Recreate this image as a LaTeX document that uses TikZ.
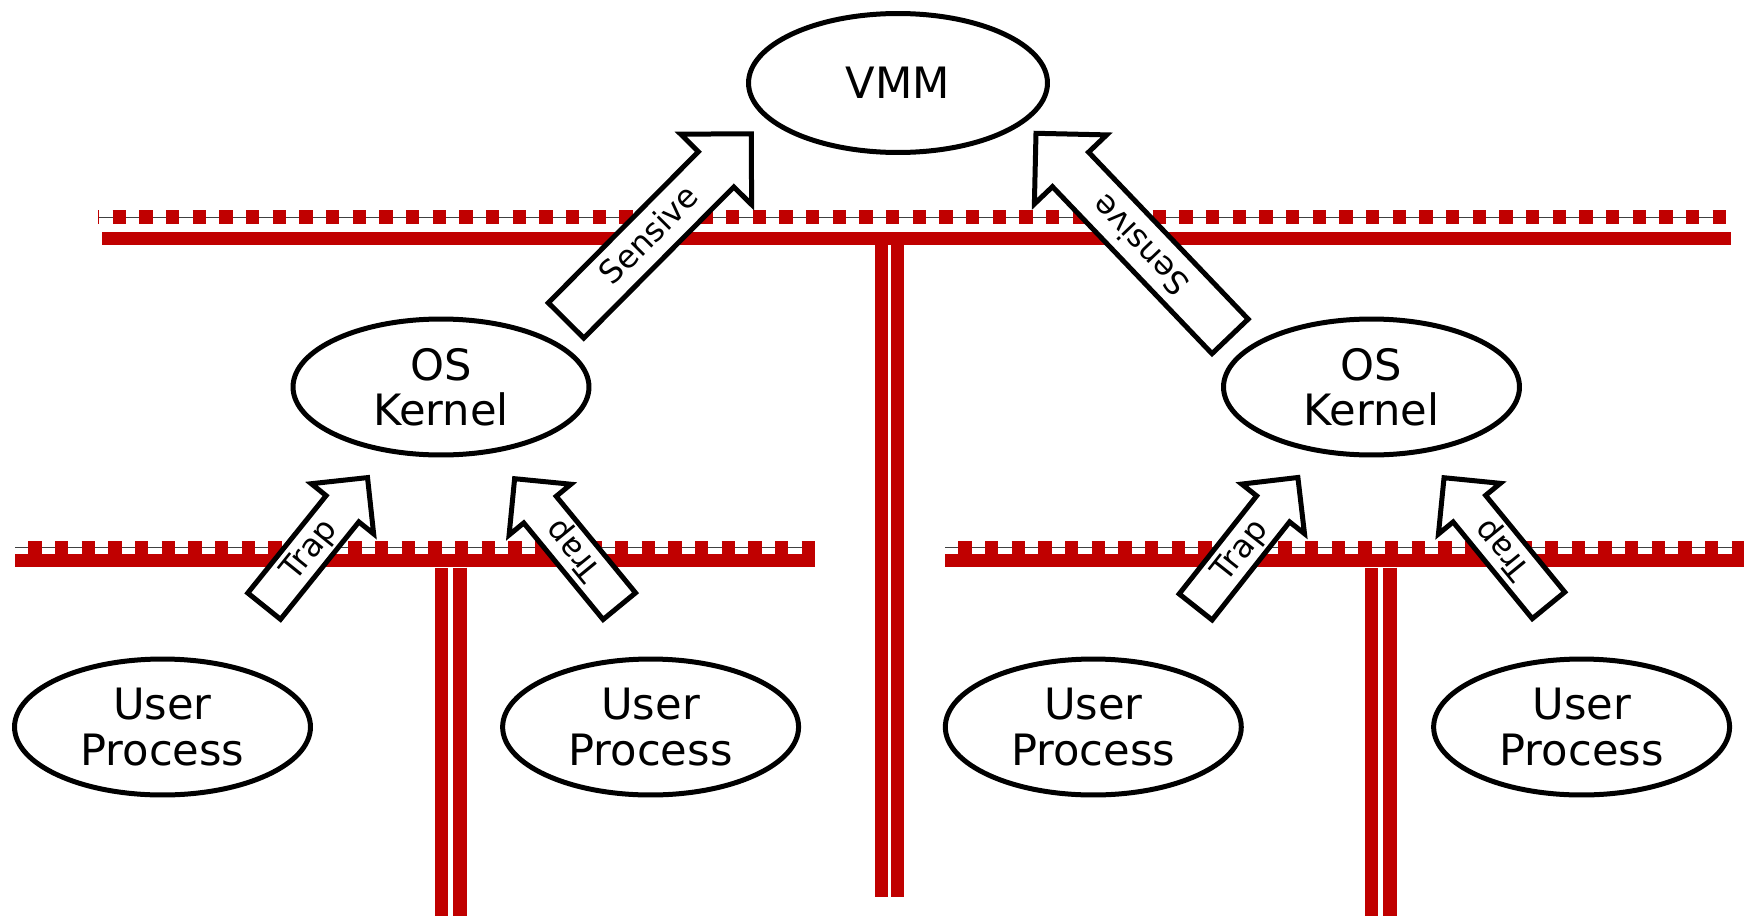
\documentclass[tikz,border=0pt]{standalone}
\usepackage{fontspec}
\setmainfont{DejaVu Sans}
\usetikzlibrary{shapes.geometric,shapes.arrows}
\definecolor{railRed}{RGB}{192,0,0}
\begin{document}
\begin{tikzpicture}[
    x=0.02cm, y=-0.02cm,
    vtRing/.style={ellipse,draw=black,line width=0.1cm,inner sep=0pt,
                   minimum width=5.92cm,minimum height=2.72cm,align=center,
                   font=\fontsize{24.6}{25.8}\selectfont},
    vtArrow/.style={single arrow,draw=black,fill=white,line width=0.1cm,
                    inner sep=0pt,anchor=tail,
                    font=\fontsize{18.2}{20}\selectfont},
    vtTrap/.style={vtArrow,text height=0.562cm,text depth=0.178cm,
                   single arrow head extend=0.38cm,minimum height=3.3cm},
    vtSens/.style={vtArrow,text height=0.642cm,text depth=0.258cm,
                   single arrow head extend=0.5cm},
    vtDots/.style={draw=railRed,line width=0.2667cm,
                   dash pattern=on 0.2667cm off 0.2667cm,dash phase=0.2667cm},
    vtWire/.style={draw=black!75,line width=0.02cm},
    vtRail/.style={draw=railRed,line width=0.2667cm},
    vtPost/.style={draw=railRed,double=white,line width=0.2667cm}]
    \useasboundingbox (0,0) rectangle (1744,916);
    % upper rail
    \coordinate (topA) at (98,217);
    \coordinate (topB) at (1726,217);
    \draw[vtWire] (topA) -- (topB);
    \draw[vtDots,dash phase=0.24cm] (topA) -- (topB);
    \draw[vtRail] (102,238.3) -- (1731,238.3);
    \draw[vtPost,double distance=0.054cm] (889.7,245) -- (889.7,897);
    % lower rails
    \foreach \x in {15,945}{
        \draw[vtWire] (\x,547.3) -- ++(800,0);
        \draw[vtDots] (\x,547.5) -- ++(800,0);
        \draw[vtRail] (\x,560.8) -- ++(800,0);
        \draw[vtPost,double distance=0.1cm] (\x+435.8,567.5) -- (\x+435.8,916);
    }
    % rings
    \node[vtRing,minimum width=5.98cm,minimum height=2.78cm] (vmm) at (898,83) {VMM};
    \node[vtRing] (kernL) at (441,387) {OS\\Kernel};
    \node[vtRing] (kernR) at (1371.5,387) {OS\\Kernel};
    \foreach \nm/\x in {userA/162.5,userB/650.6,userC/1093.3,userD/1581.6}
        \node[vtRing] (\nm) at (\x,727) {User\\Process};
    % traps
    \node[vtTrap,rotate=51.2] (trapA) at (262.6,608.1) {Trap};
    \node[vtTrap,rotate=129.4] (trapB) at (620.9,608.1) {Trap};
    \node[vtTrap,rotate=51.7] (trapC) at (1194.1,608.9) {Trap};
    \node[vtTrap,rotate=129.3] (trapD) at (1550.1,607.3) {Trap};
    \node[vtSens,rotate=45.2,minimum height=5.26cm] (sensL) at (564.3,322.2) {Sensive};
    \node[vtSens,rotate=133.7,minimum height=5.62cm] (sensR) at (1231.8,338.2) {Sensive};
\end{tikzpicture}
\end{document}
